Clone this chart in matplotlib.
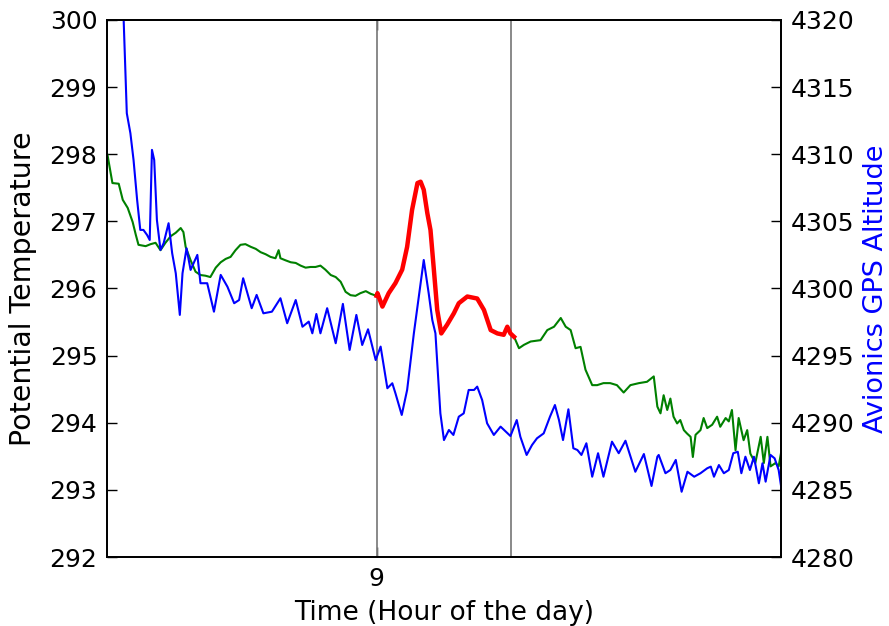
import matplotlib
matplotlib.use("Agg")
import matplotlib.pyplot as plt
import numpy as np

# Potential temperature, time given in minutes relative to 9:00
theta_min = [-5.99, -5.88, -5.74, -5.65, -5.54, -5.43, -5.36, -5.30, -5.14, -5.03,
             -4.92, -4.81, -4.70, -4.58, -4.47, -4.36, -4.30, -4.25, -4.14, -4.03,
             -3.92, -3.81, -3.70, -3.58, -3.47, -3.36, -3.25, -3.14, -3.03, -2.92,
             -2.80, -2.69, -2.58, -2.47, -2.36, -2.25, -2.18, -2.14, -2.03, -1.91,
             -1.80, -1.69, -1.58, -1.47, -1.36, -1.25, -1.14, -1.02, -0.91, -0.80,
             -0.69, -0.58, -0.47, -0.36, -0.24, -0.13, 0.00,
             0.02, 0.13, 0.27, 0.42, 0.57, 0.68, 0.79, 0.91, 0.98, 1.05,
             1.13, 1.20, 1.27, 1.35, 1.44, 1.57, 1.72, 1.83, 2.02, 2.24,
             2.39, 2.54, 2.69, 2.83, 2.91, 2.98, 3.06,
             3.17, 3.28, 3.43, 3.65, 3.80, 3.95, 4.10, 4.21, 4.32, 4.43,
             4.54, 4.65, 4.80, 4.91, 5.05, 5.20, 5.35, 5.50, 5.65, 5.84,
             6.02, 6.17, 6.25, 6.32, 6.39, 6.47, 6.54, 6.61, 6.69, 6.76,
             6.84, 6.91, 6.99, 7.04, 7.10, 7.21, 7.28, 7.36, 7.47, 7.58,
             7.65, 7.77, 7.84, 7.91, 7.99, 8.06, 8.17, 8.25, 8.32, 8.43,
             8.55, 8.62, 8.70, 8.77, 8.88, 8.95, 9.00]
theta = [297.99, 297.57, 297.56, 297.32, 297.20, 296.99, 296.80, 296.65, 296.63, 296.66,
         296.68, 296.57, 296.68, 296.78, 296.83, 296.90, 296.84, 296.62, 296.42, 296.25,
         296.20, 296.19, 296.17, 296.31, 296.39, 296.44, 296.47, 296.57, 296.65, 296.66,
         296.62, 296.59, 296.54, 296.51, 296.47, 296.45, 296.57, 296.45, 296.42, 296.39,
         296.38, 296.34, 296.31, 296.32, 296.32, 296.34, 296.28, 296.20, 296.17, 296.10,
         295.95, 295.90, 295.89, 295.93, 295.96, 295.92, 295.89,
         295.93, 295.73, 295.93, 296.08, 296.28, 296.62, 297.17, 297.57, 297.59, 297.47,
         297.12, 296.87, 296.32, 295.68, 295.33, 295.46, 295.63, 295.78, 295.88, 295.85,
         295.68, 295.38, 295.33, 295.31, 295.43, 295.33, 295.28,
         295.11, 295.16, 295.21, 295.23, 295.38, 295.43, 295.56, 295.43, 295.38, 295.11,
         295.13, 294.79, 294.56, 294.56, 294.59, 294.59, 294.56, 294.45, 294.56, 294.59,
         294.61, 294.69, 294.24, 294.14, 294.41, 294.19, 294.36, 294.09, 293.99, 294.04,
         293.89, 293.84, 293.79, 293.49, 293.82, 293.89, 294.07, 293.92, 293.97, 294.09,
         293.94, 294.07, 294.02, 294.19, 293.59, 294.07, 293.74, 293.89, 293.54, 293.40,
         293.79, 293.40, 293.79, 293.35, 293.40, 293.35, 293.54]

# Avionics GPS altitude, minutes relative to 9:00
alt_min = [-6.00, -5.70, -5.63, -5.56, -5.48, -5.41, -5.33, -5.26, -5.19, -5.11,
           -5.05, -5.00, -4.95, -4.89, -4.81, -4.74, -4.63, -4.55, -4.47, -4.38,
           -4.32, -4.23, -4.14, -3.99, -3.92, -3.77, -3.62, -3.47, -3.32, -3.17,
           -3.06, -2.97, -2.78, -2.67, -2.52, -2.33, -2.14, -1.99, -1.80, -1.65,
           -1.51, -1.43, -1.34, -1.25, -1.10, -0.91, -0.75, -0.60, -0.45, -0.32,
           -0.19, -0.02, 0.09, 0.24, 0.35, 0.42, 0.56, 0.68, 0.83, 1.05,
           1.16, 1.24, 1.31, 1.42, 1.50, 1.61, 1.71, 1.83, 1.94, 2.05,
           2.17, 2.24, 2.35, 2.46, 2.61, 2.76, 2.98, 3.12, 3.20, 3.34,
           3.46, 3.57, 3.72, 3.86, 3.97, 4.06, 4.15, 4.27, 4.38, 4.47,
           4.56, 4.67, 4.80, 4.93, 5.05, 5.24, 5.39, 5.54, 5.76, 5.95,
           6.12, 6.25, 6.28, 6.43, 6.54, 6.66, 6.79, 6.92, 7.07, 7.21,
           7.36, 7.44, 7.51, 7.62, 7.73, 7.84, 7.94, 8.04, 8.12, 8.21,
           8.31, 8.40, 8.51, 8.59, 8.66, 8.77, 8.86, 8.95, 9.01]
altitude = [4345.0, 4326.0, 4320.0, 4313.05, 4311.56, 4309.57, 4306.59, 4304.36, 4304.36, 4303.99,
            4303.61, 4310.32, 4309.57, 4305.10, 4302.87, 4303.37, 4304.86, 4302.62, 4301.13, 4298.03,
            4301.13, 4302.99, 4301.38, 4302.50, 4300.39, 4300.39, 4298.27, 4301.01, 4300.13, 4298.90,
            4299.14, 4300.76, 4298.53, 4299.52, 4298.15, 4298.27, 4299.27, 4297.41, 4299.14, 4297.15,
            4297.53, 4296.66, 4298.10, 4296.66, 4298.53, 4295.92, 4298.85, 4295.42, 4298.03, 4295.79,
            4296.96, 4294.67, 4295.67, 4292.57, 4292.94, 4292.19, 4290.58, 4292.44, 4296.66, 4302.12,
            4299.64, 4297.65, 4296.66, 4290.70, 4288.71, 4289.46, 4289.09, 4290.45, 4290.70, 4292.44,
            4292.44, 4292.69, 4291.69, 4289.96, 4289.09, 4289.71, 4289.01, 4290.20, 4288.96, 4287.60,
            4288.34, 4288.84, 4289.21, 4290.45, 4291.32, 4290.20, 4288.71, 4291.00, 4288.10, 4287.97,
            4287.60, 4288.47, 4285.98, 4287.73, 4285.98, 4288.59, 4287.73, 4288.66, 4286.35, 4287.67,
            4285.29, 4287.47, 4287.60, 4286.24, 4286.48, 4287.23, 4284.86, 4286.35, 4285.98, 4286.24,
            4286.61, 4286.73, 4285.98, 4286.85, 4286.24, 4286.48, 4287.73, 4287.84, 4286.24, 4287.47,
            4286.48, 4287.47, 4285.49, 4286.98, 4285.61, 4287.60, 4287.35, 4286.48, 4285.14]

# highlighted window (hours)
t_start = 9.0
t_end = 9.05

t_theta = 9 + np.array(theta_min) / 60.0
t_alt = 9 + np.array(alt_min) / 60.0
theta = np.array(theta)
sel = (t_theta >= t_start) & (t_theta <= t_end + 0.001)

fig = plt.figure(figsize=(8.89, 6.26), dpi=100)
ax = fig.add_axes([0.1204, 0.1102, 0.758, 0.858])
ax2 = ax.twinx()

ax.plot(t_theta, theta, color='green', lw=1.5, zorder=2)
ax.plot(t_theta[sel], theta[sel], color='red', lw=3.2, zorder=3)
ax.axvline(t_start, color='gray', lw=1.3)
ax.axvline(t_end, color='gray', lw=1.3)
ax2.plot(t_alt, altitude, color='blue', lw=1.5)

ax.set_xlim(8.9, 9.15)
ax.set_ylim(292, 300)
ax2.set_ylim(4280, 4320)
ax.set_xticks([9])
ax.set_xticklabels(['9'])
ax.set_yticks(range(292, 301))
ax2.set_yticks(range(4280, 4321, 5))

ax.set_xlabel('Time (Hour of the day)', fontsize=19, labelpad=7)
ax.set_ylabel('Potential Temperature', fontsize=20.5, labelpad=9)
ax2.set_ylabel('Avionics GPS Altitude', color='blue', fontsize=19.5, labelpad=6)

for a in (ax, ax2):
    a.tick_params(direction='in', length=7, width=1, labelsize=18, pad=7)
    for s in a.spines.values():
        s.set_linewidth(1.3)
ax.tick_params(axis='y', right=False)
ax.tick_params(axis='x', top=True)

fig.savefig('out.png', dpi=100)
